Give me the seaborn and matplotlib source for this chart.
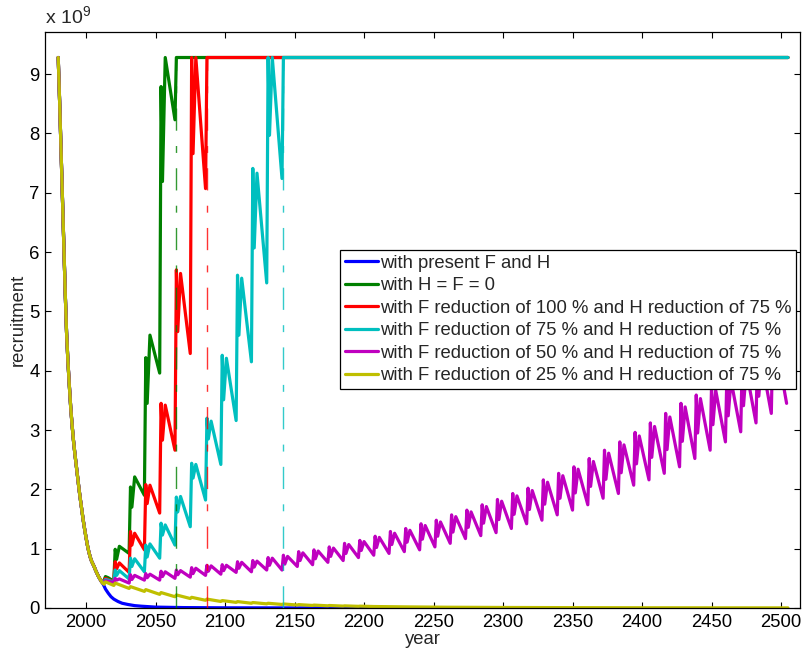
import numpy as np
import pandas as pd
import matplotlib
matplotlib.use("Agg")
import matplotlib.pyplot as plt
import seaborn as sns

# ---------------- data (values in units of 1e9) ----------------
common_years = list(range(1980, 2013))
common_vals = [9.28, 8.55, 7.75, 6.95, 6.15, 5.35, 4.65, 4.15, 3.75, 3.38,
               3.08, 2.82, 2.60, 2.40, 2.20, 2.00, 1.82, 1.65, 1.48, 1.33,
               1.19, 1.06, 0.95, 0.86, 0.79, 0.74, 0.69, 0.63, 0.58, 0.53,
               0.49, 0.45, 0.42]

cycle_years = [2020, 2031, 2042, 2053, 2064, 2075, 2086, 2097, 2108, 2119,
               2130, 2141, 2152, 2163, 2174, 2185, 2196, 2207, 2218, 2229,
               2240, 2251, 2262, 2273, 2284, 2295, 2306, 2317, 2328, 2339,
               2350, 2361, 2372, 2383, 2394, 2405, 2416, 2427, 2438, 2449,
               2460, 2471, 2482, 2493, 2504]
end_year = 2505

bump_years = [2013, 2014, 2016, 2018]

# present F and H
blue_years = [2013, 2014, 2016, 2018, 2020, 2023, 2026, 2030, 2035, 2040,
              2050, 2070, 2100, 2150, 2235]
blue_vals = [0.37, 0.32, 0.25, 0.19, 0.15, 0.11, 0.08, 0.06, 0.04, 0.03,
             0.015, 0.007, 0.003, 0.001, 0.0]

# H = F = 0
green_bump = [0.47, 0.53, 0.51, 0.48]
green_L = [0.46, 0.92, 1.90, 3.96, 8.23]
green_P1 = [0.99, 2.04, 4.22, 8.79, 9.28]
green_D = [0.82, 1.70, 3.45, 7.19]
green_P2 = [1.04, 2.21, 4.60, 9.28]

# F -100 %, H -75 %
red_bump = [0.45, 0.50, 0.48, 0.46]
red_L = [0.45, 0.60, 0.98, 1.60, 2.66, 4.29, 7.07]
red_P1 = [0.78, 1.29, 2.08, 3.45, 5.70, 9.28, 9.28]
red_D = [0.66, 1.06, 1.76, 2.83, 4.66, 7.66]
red_P2 = [0.76, 1.26, 2.07, 3.42, 5.64, 9.28]

# F -75 %, H -75 %
cyan_bump = [0.44, 0.48, 0.47, 0.45]
cyan_L = [0.44, 0.49, 0.61, 0.84, 1.06, 1.37, 1.82, 2.42, 3.16, 4.15, 5.48, 7.24]
cyan_P1 = [0.64, 0.84, 1.06, 1.43, 1.87, 2.44, 3.20, 4.26, 5.61, 7.41, 9.28, 9.28]
cyan_D = [0.55, 0.70, 0.86, 1.23, 1.62, 2.19, 2.85, 3.51, 4.60, 6.07, 7.97]
cyan_P2 = [0.63, 0.83, 1.08, 1.40, 1.88, 2.42, 3.15, 4.21, 5.56, 7.33, 9.28]

# F -50 %, H -75 %
mag_bump = [0.43, 0.46, 0.45, 0.44]
mag_L = [0.43, 0.42, 0.47, 0.47, 0.50, 0.52, 0.55, 0.57, 0.60, 0.61,
         0.64, 0.64, 0.70, 0.73, 0.77, 0.80, 0.85, 0.89, 0.92, 0.95,
         0.98, 1.03, 1.09, 1.17, 1.22, 1.27, 1.34, 1.42, 1.48, 1.57,
         1.65, 1.74, 1.85, 1.93, 2.07, 2.16, 2.27, 2.38, 2.52, 2.66,
         2.80, 2.97, 3.12, 3.28, 3.45]
mag_P1 = [0.50, 0.56, 0.58, 0.62, 0.64, 0.68, 0.72, 0.73, 0.78, 0.80,
          0.85, 0.89, 0.95, 0.98, 1.03, 1.09, 1.14, 1.21, 1.29, 1.34,
          1.42, 1.48, 1.57, 1.65, 1.74, 1.83, 1.93, 2.02, 2.16, 2.27,
          2.38, 2.52, 2.66, 2.80, 2.96, 3.12, 3.28, 3.45, 3.59, 3.73,
          3.90, 4.08, 4.25, 4.45]
mag_D = [0.47, 0.48, 0.51, 0.53, 0.56, 0.58, 0.62, 0.63, 0.67, 0.69,
         0.72, 0.74, 0.80, 0.83, 0.87, 0.92, 0.97, 1.02, 1.07, 1.11,
         1.16, 1.21, 1.28, 1.36, 1.43, 1.49, 1.58, 1.66, 1.75, 1.85,
         1.94, 2.05, 2.17, 2.28, 2.43, 2.54, 2.67, 2.81, 2.95, 3.09,
         3.24, 3.41, 3.57, 3.75]
mag_P2 = [0.49, 0.55, 0.57, 0.61, 0.63, 0.67, 0.71, 0.72, 0.77, 0.79,
          0.84, 0.87, 0.93, 0.96, 1.01, 1.07, 1.12, 1.19, 1.26, 1.31,
          1.39, 1.45, 1.54, 1.62, 1.71, 1.80, 1.89, 1.98, 2.12, 2.23,
          2.34, 2.47, 2.61, 2.75, 2.90, 3.06, 3.22, 3.39, 3.53, 3.67,
          3.84, 4.01, 4.18, 4.38]

# F -25 %, H -75 %
yel_bump = [0.40, 0.44, 0.42, 0.40]
yel_L = [0.38, 0.33, 0.28, 0.23, 0.19, 0.16, 0.13, 0.11, 0.095, 0.08,
         0.07, 0.06, 0.05, 0.043, 0.037, 0.032, 0.028]
yel_P1 = [0.42, 0.36, 0.31, 0.26, 0.22, 0.18, 0.15, 0.125, 0.108, 0.092,
          0.08, 0.068, 0.057, 0.049, 0.042, 0.036, 0.031]
yel_tail_years = [2207, 2230, 2260, 2300, 2350, 2400, 2450, 2505]
yel_tail_vals = [0.025, 0.019, 0.013, 0.009, 0.006, 0.004, 0.003, 0.002]

dash_years = [2065, 2087, 2142]
dash_top = 9.28

labels = ["with present F and H",
          "with H = F = 0",
          "with F reduction of 100 % and H reduction of 75 %",
          "with F reduction of 75 % and H reduction of 75 %",
          "with F reduction of 50 % and H reduction of 75 %",
          "with F reduction of 25 % and H reduction of 75 %"]
colors = ["#0000ff", "#008000", "#ff0000", "#00bfbf", "#bf00bf", "#bfbf00"]

xticks = list(range(2000, 2501, 50))
yticks = list(range(0, 10))


# ---------------- assemble point sequences ----------------
def build(bump, L, P1=(), D=(), P2=(), flat=False):
    yrs = list(common_years) + list(bump_years)
    vals = list(common_vals) + list(bump)
    for k in range(len(L)):
        T = cycle_years[k]
        yrs.append(T); vals.append(L[k])
        if k < len(P1):
            yrs.append(T + 1); vals.append(P1[k])
        if k < len(D):
            yrs.append(T + 2); vals.append(D[k])
        if k < len(P2):
            yrs.append(T + 4); vals.append(P2[k])
    if flat:
        yrs.append(end_year); vals.append(P1[-1])
    return yrs, vals


series = []
series.append((list(common_years) + blue_years, list(common_vals) + blue_vals))
series.append(build(green_bump, green_L, green_P1, green_D, green_P2, flat=True))
series.append(build(red_bump, red_L, red_P1, red_D, red_P2, flat=True))
series.append(build(cyan_bump, cyan_L, cyan_P1, cyan_D, cyan_P2, flat=True))
series.append(build(mag_bump, mag_L, mag_P1, mag_D, mag_P2))
yy, yv = build(yel_bump, yel_L, yel_P1)
series.append((yy + yel_tail_years, yv + yel_tail_vals))

# ---------------- plotting ----------------
sns.set_style("ticks")
plt.rcParams['font.family'] = ['Liberation Sans', 'DejaVu Sans']
plt.rcParams['mathtext.fontset'] = 'custom'
plt.rcParams['mathtext.rm'] = 'Liberation Sans'

FS = 13.3

fig = plt.figure(figsize=(8.03, 6.51), dpi=100)
ax = fig.add_axes([45 / 803, 43 / 651, 755.5 / 803, 576 / 651])

for (yrs, vals), lab, col in zip(series, labels, colors):
    df = pd.DataFrame({"year": yrs, "recruitment": vals})
    sns.lineplot(data=df, x="year", y="recruitment", ax=ax, color=col,
                 linewidth=2.3, label=lab, estimator=None, sort=False)

for xv, col in zip(dash_years, colors[1:4]):
    ax.vlines(xv, 0, dash_top, colors=col, linewidth=1.0,
              linestyles=(0, (16, 11, 5, 11)), zorder=3, alpha=0.8)

ax.set_xlim(1970.5, 2514)
ax.set_ylim(0, 9.71)
ax.set_xticks(xticks)
ax.set_yticks(yticks)
ax.set_yticklabels([str(v) for v in yticks])
ax.tick_params(direction='in', length=4, width=0.8, top=True, right=True,
               labelsize=FS, colors='black', pad=4)
for sp in ax.spines.values():
    sp.set_visible(True)
    sp.set_color('black')
    sp.set_linewidth(0.9)

ax.set_xlabel("year", fontsize=FS, labelpad=0)
ax.set_ylabel("recruitment", fontsize=FS, labelpad=1.5)
ax.text(0.0, 1.006, r"x 10$^{9}$", transform=ax.transAxes, ha='left',
        va='bottom', fontsize=14)

leg = ax.legend(loc='upper right', bbox_to_anchor=(0.9937, 0.6215),
                borderaxespad=0, fancybox=False, frameon=True,
                fontsize=FS, handlelength=1.8, handletextpad=0.1,
                labelspacing=0.3, borderpad=0.25, framealpha=1)
leg.get_frame().set_edgecolor('black')
leg.get_frame().set_linewidth(0.9)

fig.savefig("out.png", dpi=100)
